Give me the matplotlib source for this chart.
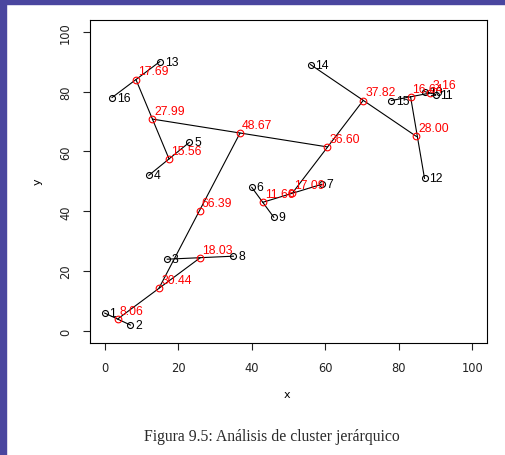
import matplotlib.pyplot as plt
from matplotlib.patches import Rectangle

# observations (black circles)
point_names = ['1', '2', '3', '4', '5', '6', '7', '8',
               '9', '10', '11', '12', '13', '14', '15', '16']
point_x = [0, 7, 17, 12, 23, 40, 59, 35, 46, 87, 90, 87, 15, 56, 78, 2]
point_y = [6, 2, 24, 52, 63, 48, 49, 25, 38, 80, 79, 51, 90, 89, 77, 78]

# merge nodes (red circles) with the distance shown next to them
node_names = ['m1', 'm2', 'm3', 'm4', 'm5', 'm6', 'm7', 'm8',
              'm9', 'm10', 'm11', 'm12', 'm13', 'm14', 'm15']
node_x = [3.5, 26, 14.8, 17.5, 8.5, 13, 43, 51, 88.5, 83.2, 84.8, 70.3, 60.6, 36.8, 25.8]
node_y = [4, 24.5, 14.4, 57.5, 84, 70.8, 43, 46, 79.5, 78.3, 65, 77, 61.5, 66.1, 40.2]
node_labels = ['8.06', '18.03', '30.44', '15.56', '17.69', '27.99', '11.66', '17.09',
               '3.16', '16.64', '28.00', '37.82', '36.60', '48.67', '66.39']

# each merge joins two children
merge_a = ['1', '3', 'm1', '4', '13', 'm5', '6', 'm7', '10', '15', '12', '14', 'm8', 'm6', 'm3']
merge_b = ['2', '8', 'm2', '5', '16', 'm4', '9', '7', '11', 'm9', 'm10', 'm11', 'm12', 'm13', 'm14']

pos = dict(zip(point_names, zip(point_x, point_y)))
pos.update(dict(zip(node_names, zip(node_x, node_y))))

fig = plt.figure(figsize=(5.06, 4.56), dpi=100)
ax = fig.add_axes([90 / 506, 1 - 344 / 456, 397 / 506, 323.3 / 456])

for a, b in zip(merge_a, merge_b):
    ax.plot([pos[a][0], pos[b][0]], [pos[a][1], pos[b][1]], color='black', lw=0.8, zorder=2)

ax.plot(point_x, point_y, 'o', mfc='none', mec='black', ms=4.3, mew=0.8, zorder=3)
ax.plot(node_x, node_y, 'o', mfc='none', mec='red', ms=4.8, mew=0.8, zorder=3)

for name, x, y in zip(point_names, point_x, point_y):
    ax.annotate(name, (x, y), xytext=(3.5, 0), textcoords='offset points',
                ha='left', va='center', fontsize=8.8, color='black', family='Liberation Sans')
for lab, x, y in zip(node_labels, node_x, node_y):
    ax.annotate(lab, (x, y), xytext=(1.5, 1.5), textcoords='offset points',
                ha='left', va='bottom', fontsize=8.8, color='red', family='Liberation Sans')

ax.set_xlim(-4, 104)
ax.set_ylim(-4, 104)
ax.set_xticks([0, 20, 40, 60, 80, 100])
ax.set_yticks([0, 20, 40, 60, 80, 100])
ax.tick_params(direction='out', length=5, width=0.8, labelsize=8.3, pad=8, colors='#222222')
for lbl in ax.get_yticklabels():
    lbl.set_rotation(90)
    lbl.set_va('center')
for sp in ax.spines.values():
    sp.set_linewidth(0.8)

fig.text(38 / 506, 1 - 182 / 456, 'y', rotation=90, ha='center', va='center', fontsize=8)
fig.text(287 / 506, 1 - 395 / 456, 'x', ha='center', va='center', fontsize=8)
fig.text(272 / 506, 1 - 437 / 456, 'Figura 9.5: Análisis de cluster jerárquico',
         ha='center', va='center', fontsize=11.3, family='Liberation Serif', color='#2a2a2a')

# slide background edges
fig.patches.append(Rectangle((0, 0), 6 / 506, 1, transform=fig.transFigure,
                             color='#4a469f', zorder=-1))
fig.patches.append(Rectangle((0, 1 - 5 / 456), 1, 5 / 456, transform=fig.transFigure,
                             color='#4a469f', zorder=-1))

fig.savefig('out.png', dpi=100)
